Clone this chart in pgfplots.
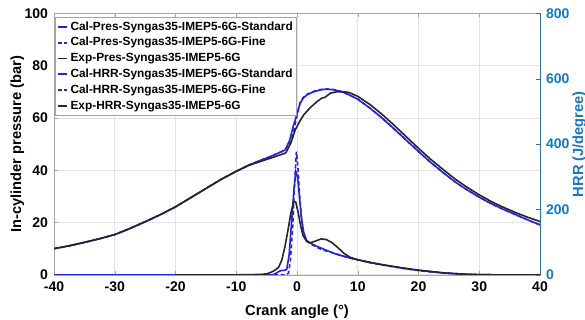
\documentclass[border=0pt]{standalone}
\usepackage{fontspec}
\setmainfont{Liberation Sans}
\usepackage{pgfplots}
\pgfplotsset{compat=1.18}
\definecolor{cb}{RGB}{35,35,230}
\definecolor{rax}{RGB}{20,120,195}
\definecolor{gridc}{RGB}{228,228,228}
\definecolor{boxc}{RGB}{165,165,165}
\pgfplotsset{
  common/.style={
    scale only axis, width=364.5pt, height=196pt,
    xmin=-40, xmax=40,
    tick align=inside, major tick length=3pt,
    /pgf/number format/assume math mode=true,
    ticklabel style={font=\bfseries\fontsize{10.5}{12}\selectfont},
    xticklabel style={yshift=-2pt},
  },
  dashb/.style={cb, line width=1.2pt, dash pattern=on 3pt off 2pt},
  solb/.style={cb, line width=1.2pt},
  solk/.style={black!85, line width=1.2pt},
}
\begin{document}
\begin{tikzpicture}
\begin{axis}[common, name=main,
  ymin=0, ymax=100,
  xtick={-40,-30,...,40}, ytick={0,20,...,100},
  ytick pos=left,
  yticklabel style={xshift=-1pt},
  grid=major, major grid style={gridc, line width=0.5pt},
  axis line style={boxc}, tick style={boxc},
  xlabel={Crank angle (°)}, ylabel={In-cylinder pressure (bar)},
  every axis x label/.style={at={(axis description cs:0.5,0)}, yshift=-27.5pt, anchor=center, font=\bfseries\fontsize{11}{13}\selectfont},
  every axis y label/.style={at={(axis description cs:0,0.5)}, xshift=-27.5pt, rotate=90, anchor=center, font=\bfseries\fontsize{11}{13}\selectfont},
]
% Cal pressure standard
\addplot[solb] coordinates {(-40,10.0) (-37.5,11.1) (-35,12.4) (-32.5,13.8) (-30,15.4) (-27.5,17.7) (-25,20.3) (-22.5,23.0) (-20,26.0) (-17.5,29.5) (-15,33.0) (-12.5,36.5) (-10,39.6) (-8,41.9) (-6,43.8) (-4,45.6) (-2,47.7) (-1.8,48.4) (-1.2,51.5) (-0.6,57) (0,61.5) (0.5,65.5) (1,67.5) (1.6,68.8) (2.5,69.8) (3.3,70.4) (4.2,70.9) (5,71.0) (6,70.8) (7,70.3) (8,69.5) (10,67.2) (12,63.8) (14,60) (16,55.8) (18,51.5) (20,47.2) (22,43) (24,39.2) (26,35.6) (28,32.5) (30,29.7) (32,27.2) (34,25) (36,23) (38,21) (40,19.1)};
% Cal pressure fine
\addplot[dashb] coordinates {(-40,10.0) (-37.5,11.1) (-35,12.4) (-32.5,13.8) (-30,15.4) (-27.5,17.7) (-25,20.3) (-22.5,23.0) (-20,26.0) (-17.5,29.5) (-15,33.0) (-12.5,36.5) (-10,39.6) (-8,41.9) (-6,43.8) (-4,45.6) (-2,47.7) (-1.8,48.4) (-1,50.8) (-0.5,55.5) (0,61) (0.5,65.8) (1,67.8) (1.6,69) (2.5,70) (3.3,70.6) (4.2,71) (5,71.1) (6,70.9) (7,70.3) (8,69.5) (10,67.2) (12,63.8) (14,60) (16,55.8) (18,51.5) (20,47.2) (22,43) (24,39.2) (26,35.6) (28,32.5) (30,29.7) (32,27.2) (34,25) (36,23) (38,21) (40,19.1)};
% Exp pressure
\addplot[solk] coordinates {(-40,10.0) (-37.5,11.1) (-35,12.4) (-32.5,13.8) (-30,15.4) (-27.5,17.7) (-25,20.3) (-22.5,23.0) (-20,26.0) (-17.5,29.5) (-15,33.0) (-12.5,36.5) (-10,39.6) (-8,41.8) (-6,43.4) (-4,44.9) (-2,46.5) (-1.8,46.8) (-1,50.5) (-0.3,55.4) (0.4,58.5) (1.1,61.2) (2.2,64) (3.3,66.3) (4.1,67.6) (4.6,67.9) (5.5,69.5) (6.5,70.0) (7.4,70.1) (8.5,69.8) (10,68.3) (12,65.2) (14,61.4) (16,57.2) (18,52.8) (20,48.4) (22,44.2) (24,40.4) (26,36.7) (28,33.5) (30,30.6) (32,28) (34,25.8) (36,23.8) (38,22) (40,20.4)};
\end{axis}
\begin{axis}[common,
  ymin=0, ymax=800, ytick={0,200,...,800},
  axis x line=none, axis y line*=right,
  y axis line style={rax}, ytick style={rax},
  yticklabel style={rax, xshift=1pt},
  ylabel={HRR (J/degree)},
  every axis y label/.style={at={(axis description cs:1,0.5)}, xshift=29.5pt, rotate=90, anchor=center, text=rax, font=\bfseries\fontsize{11}{13}\selectfont},
  legend cell align=left,
  legend style={at={(0,1)}, anchor=north west, xshift=1pt, yshift=-3pt,
    draw=boxc, fill=white, inner sep=0.8pt, row sep=0pt,
    font=\bfseries\fontsize{8.9}{10}\selectfont},
  legend image code/.code={\draw[#1, line width=1.4pt] (0pt,0pt) -- (7pt,0pt);},
]
\addlegendimage{solb}
\addlegendentry{Cal-Pres-Syngas35-IMEP5-6G-Standard}
\addlegendimage{dashb}
\addlegendentry{Cal-Pres-Syngas35-IMEP5-6G-Fine}
\addlegendimage{solk}
\addlegendentry{Exp-Pres-Syngas35-IMEP5-6G}
% Cal HRR standard
\addplot[solb] coordinates {(-40,0) (-4,0) (-3.6,3) (-3,10) (-2.6,13) (-2,14) (-1.7,16) (-1.3,60) (-0.9,160) (-0.5,260) (-0.2,316) (0.1,300) (0.4,240) (0.7,180) (1.1,130) (1.6,105) (2.2,97) (3.3,87) (4.2,80) (5,74) (6,66) (7,60) (8,55) (9,50) (10,46) (12,38) (14,31) (16,25) (18,19) (20,14) (22,10) (24,6) (26,3.5) (28,1.5) (30,0.5) (32,0) (40,0)};
\addlegendentry{Cal-HRR-Syngas35-IMEP5-6G-Standard}
% Cal HRR fine
\addplot[dashb] coordinates {(-40,0) (-1.8,0) (-1.4,5) (-1.1,40) (-0.7,150) (-0.4,280) (-0.1,377) (0.15,330) (0.4,250) (0.7,180) (1,130) (1.5,105) (2.2,95) (3.3,84) (4.2,76) (5,72) (6,67) (7,61) (8,55) (9,50) (10,46) (12,37) (14,30) (16,24) (18,18) (20,13) (22,9) (24,6) (26,3.5) (28,1.5) (30,0.5) (32,0) (40,0)};
\addlegendentry{Cal-HRR-Syngas35-IMEP5-6G-Fine}
% Exp HRR
\addplot[solk] coordinates {(-20,0) (-10,0) (-6,1) (-5,3) (-4.5,6) (-4,10) (-3.5,16) (-3,24) (-2.5,45) (-2,85) (-1.5,135) (-1,190) (-0.5,225) (-0.2,222) (0.2,190) (0.6,150) (1,120) (1.6,102) (2.2,98) (3,103) (4,110) (4.8,108) (5.8,98) (6.8,82) (7.7,66) (8.7,54) (10,46) (12,38) (14,31) (16,25) (18,19) (20,14) (22,10) (24,6) (26,3.5) (28,1.5) (30,0.5) (32,0) (40,0)};
\addlegendentry{Exp-HRR-Syngas35-IMEP5-6G}
\end{axis}
\pgfresetboundingbox
\path ([shift={(-40.5pt,-33.75pt)}]main.south west) rectangle ([shift={(33.75pt,10.1pt)}]main.north east);
\end{tikzpicture}
\end{document}
